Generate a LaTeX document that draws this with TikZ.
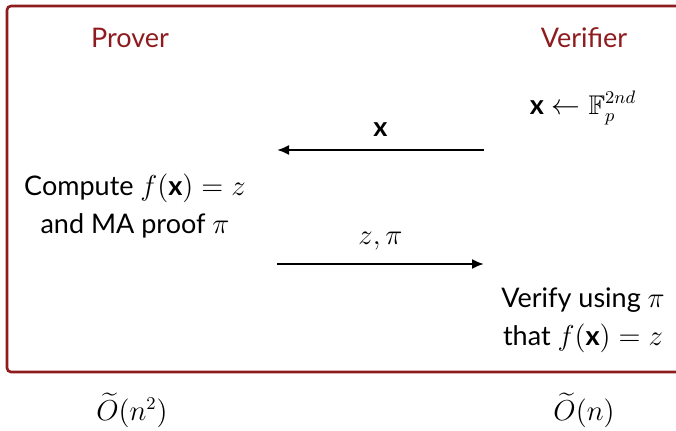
\documentclass[tikz,border=0pt]{standalone}
\usepackage{amsmath,amssymb}
\usepackage{fontspec}
\setmainfont{Lato}
\usepackage{tikz}
\usetikzlibrary{arrows.meta,positioning,calc}
\definecolor{pvred}{HTML}{8E1B1E}

\begin{document}
\begin{tikzpicture}[x=0.5pt,y=-0.5pt,
    party/.style={text=pvred, font=\fontsize{13.5}{17}\selectfont},
    task/.style={align=center, font=\fontsize{13.5}{19}\selectfont},
    msg/.style={line width=1pt, -{Latex[length=6pt,width=5pt]}}]
    \useasboundingbox (0,0) rectangle (676,430);
    % Outer frame
    \draw[pvred, line width=1.3pt, rounded corners=2pt] (7,372) rectangle (690,6);
    % Parties
    \node[party] (prover) at (130,38) {Prover};
    \node[party] (verifier) at (584,38) {Verifier};
    % Verifier samples the point
    \node[task] (sample) at (583,108) {$\mathbf{x} \leftarrow \mathbb{F}_p^{2nd}$};
    % Prover work
    \node[task] (compute) at (135,206) {Compute $f(\mathbf{x}) = z$\\ and MA proof $\pi$};
    % Verifier check
    \node[task] (verify) at (583,320) {Verify using $\pi$\\ that $f(\mathbf{x}) = z$};
    % Messages
    \coordinate (xfrom) at (484,150);
    \coordinate (xto) at (277,150);
    \coordinate (zfrom) at (277,264);
    \coordinate (zto) at (484,264);
    \draw[msg] (xfrom) -- node[task, above=3pt] (xlabel) {$\mathbf{x}$} (xto);
    \draw[msg] (zfrom) -- node[task, above=3pt] (zlabel) {$z, \pi$} (zto);
    % Running times
    \node[task] (pcost) at (132,410) {$\widetilde{O}(n^2)$};
    \node[task] (vcost) at (584,410) {$\widetilde{O}(n)$};
\end{tikzpicture}
\end{document}
